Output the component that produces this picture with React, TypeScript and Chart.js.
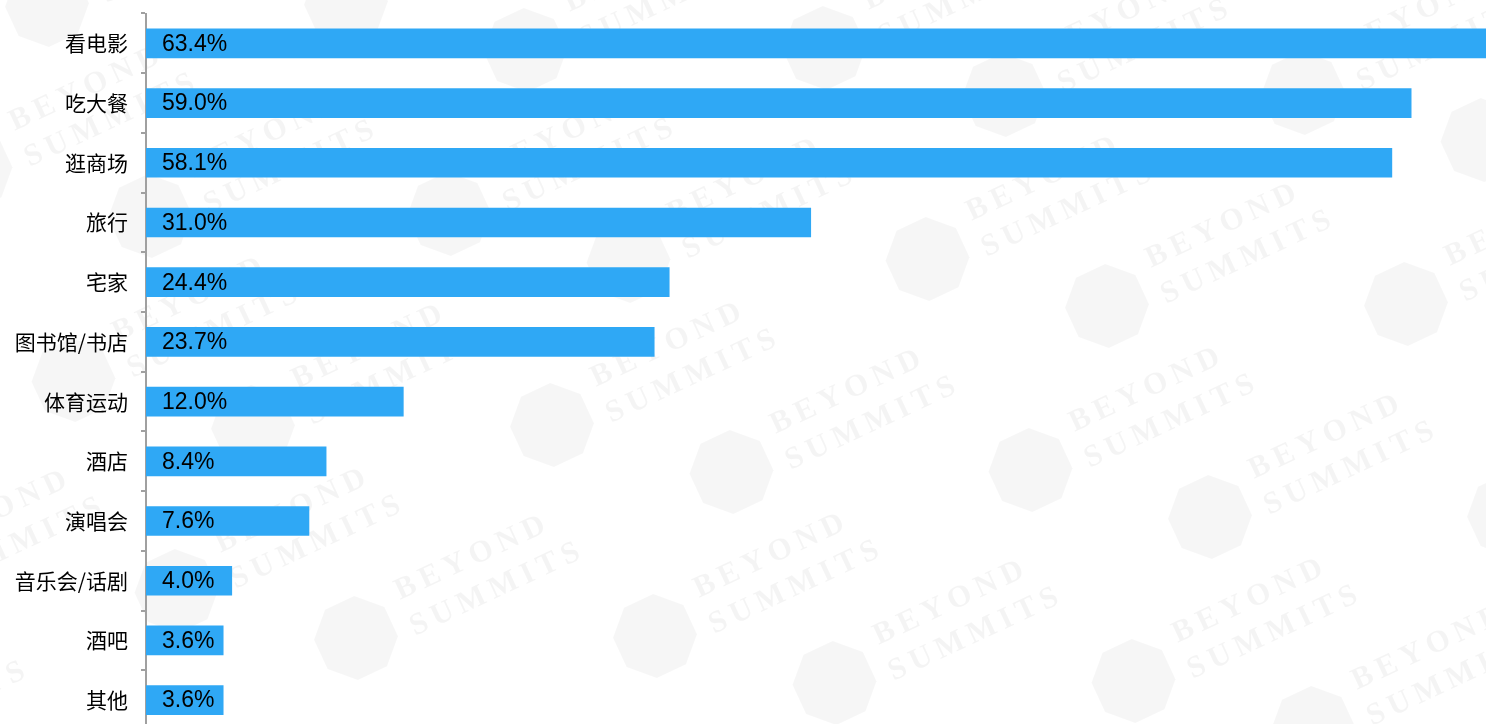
import React, { useEffect, useRef } from "react";
import { Chart, registerables } from "chart.js";

Chart.register(...registerables);

const categories = [
  "看电影",
  "吃大餐",
  "逛商场",
  "旅行",
  "宅家",
  "图书馆/书店",
  "体育运动",
  "酒店",
  "演唱会",
  "音乐会/话剧",
  "酒吧",
  "其他",
];
const values = [63.4, 59.0, 58.1, 31.0, 24.4, 23.7, 12.0, 8.4, 7.6, 4.0, 3.6, 3.6];
const valueLabels = values.map((v) => v.toFixed(1) + "%");
const watermarkWords = ["BEYOND", "SUMMITS"];

const W = 1486;
const H = 730;

const watermarkPlugin = {
  id: "watermark",
  beforeDraw(chart: any) {
    const ctx = chart.ctx;
    ctx.save();
    ctx.fillStyle = "#fff";
    ctx.fillRect(0, 0, chart.width, chart.height);
    const ang = (-25 * Math.PI) / 180;
    for (let i = -4; i <= 4; i++) {
      for (let j = -4; j <= 4; j++) {
        for (let k = 0; k <= 1; k++) {
          const lx = 253 + i * 478.5 + j * 103 + k * 299;
          const ly = 427 + i * 45 + j * 211 - k * 2;
          if (lx < -300 || lx > W + 60 || ly < -120 || ly > H + 60) continue;
          // logo
          ctx.save();
          ctx.translate(lx, ly);
          ctx.rotate(ang);
          ctx.fillStyle = "rgba(0,0,0,0.035)";
          ctx.beginPath();
          for (let s = 0; s < 8; s++) {
            const a = (s * Math.PI) / 4 + Math.PI / 8;
            const px = Math.cos(a) * 42;
            const py = Math.sin(a) * 42;
            if (s === 0) ctx.moveTo(px, py);
            else ctx.lineTo(px, py);
          }
          ctx.closePath();
          ctx.fill();
          ctx.restore();
          // text
          ctx.fillStyle = "rgba(0,0,0,0.045)";
          ctx.font = 'bold 31px "Liberation Serif", serif';
          try {
            (ctx as any).letterSpacing = "6px";
          } catch (e) {}
          ctx.save();
          ctx.translate(lx + 44, ly - 38);
          ctx.rotate(ang);
          ctx.fillText(watermarkWords[0], 0, 0);
          ctx.restore();
          ctx.save();
          ctx.translate(lx + 59, ly - 2);
          ctx.rotate(ang);
          ctx.fillText(watermarkWords[1], 0, 0);
          ctx.restore();
          try {
            (ctx as any).letterSpacing = "0px";
          } catch (e) {}
        }
      }
    }
    ctx.restore();
  },
};

const labelPlugin = {
  id: "barLabels",
  afterDatasetsDraw(chart: any) {
    const ctx = chart.ctx;
    const meta = chart.getDatasetMeta(0);
    ctx.save();
    ctx.font = '23px "Liberation Sans", Arial, sans-serif';
    ctx.fillStyle = "#000";
    ctx.textAlign = "left";
    ctx.textBaseline = "middle";
    meta.data.forEach((bar: any, i: number) => {
      ctx.fillText(valueLabels[i], chart.chartArea.left + 16, bar.y + 1);
    });
    ctx.restore();
  },
};

export default function App() {
  const ref = useRef<HTMLCanvasElement | null>(null);
  useEffect(() => {
    if (!ref.current) return;
    const chart = new Chart(ref.current, {
      type: "bar",
      data: {
        labels: categories,
        datasets: [
          {
            data: values,
            backgroundColor: "#2FA8F5",
            borderWidth: 0,
            barThickness: 29,
          },
        ],
      },
      options: {
        indexAxis: "y",
        animation: false,
        responsive: false,
        maintainAspectRatio: false,
        layout: { padding: { top: 13.5, left: 0, right: 0, bottom: 0 } },
        plugins: {
          legend: { display: false },
          tooltip: { enabled: false },
          title: { display: false },
        },
        scales: {
          x: {
            display: false,
            min: 0,
            max: 62.49,
          },
          y: {
            type: "category",
            offset: true,
            border: { display: true, color: "#a0a0a0", width: 2 },
            grid: {
              offset: true,
              drawOnChartArea: false,
              drawTicks: true,
              tickLength: 5,
              color: "#a0a0a0",
              lineWidth: 2,
            },
            ticks: {
              color: "#000",
              padding: 13,
              font: { family: '"Noto Sans CJK SC", sans-serif', size: 21 },
            },
            afterFit(scale: any) {
              scale.width = 146;
              scale.paddingTop = 0;
              scale.paddingBottom = 0;
            },
          },
        },
      },
      plugins: [watermarkPlugin, labelPlugin],
    });
    return () => chart.destroy();
  }, []);
  return (
    <div
      style={{
        position: "fixed",
        left: 0,
        top: 0,
        width: W,
        height: H,
        background: "#fff",
        overflow: "hidden",
      }}
    >
      <canvas ref={ref} width={W} height={H} style={{ width: W, height: H, display: "block" }} />
    </div>
  );
}
